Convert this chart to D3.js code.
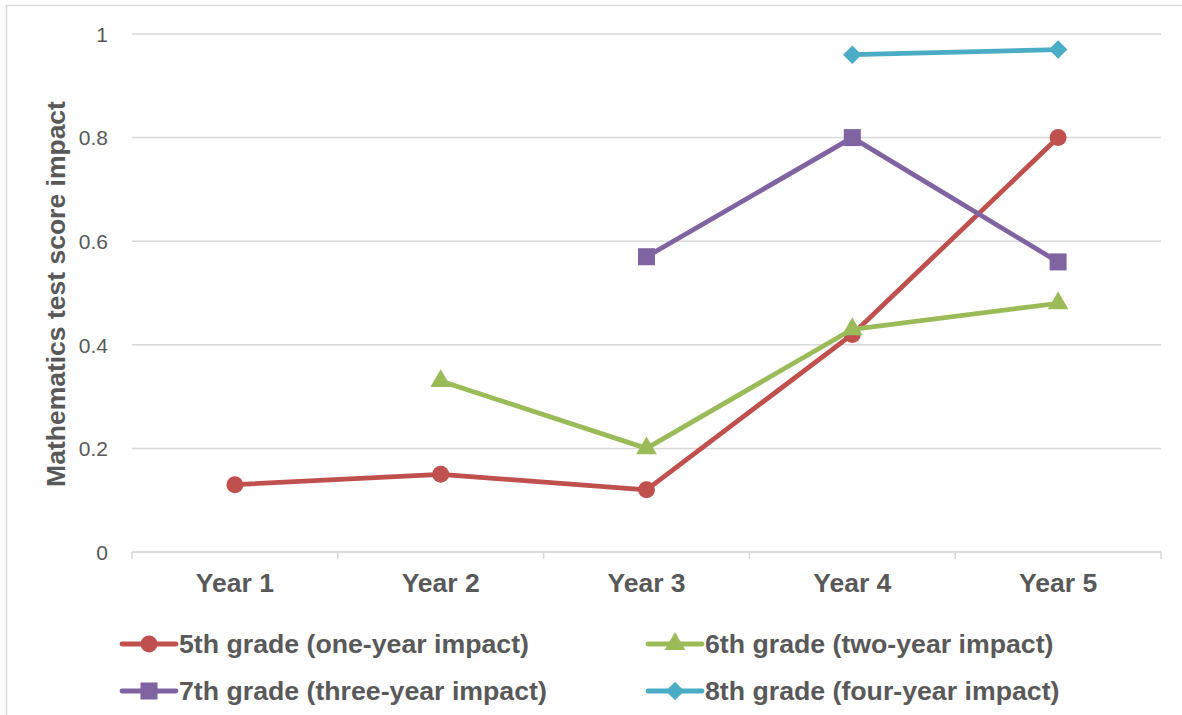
<!DOCTYPE html>
<html>
<head>
<meta charset="utf-8">
<script src="https://cdn.jsdelivr.net/npm/d3@7"></script>
<style>
  html, body { margin: 0; padding: 0; background: #fff; }
  svg { display: block; font-family: "Liberation Sans", Arial, sans-serif; }
</style>
</head>
<body>
<svg id="chart" width="1182" height="715"></svg>
<script>
// Category labels along the x axis
const years = ["Year 1", "Year 2", "Year 3", "Year 4", "Year 5"];
// Y axis tick values
const yTicks = [0, 0.2, 0.4, 0.6, 0.8, 1];

// Series values (null = no data for that year)
const grade5 = [0.13, 0.15, 0.12, 0.42, 0.80];
const grade6 = [null, 0.33, 0.20, 0.43, 0.48];
const grade7 = [null, null, 0.57, 0.80, 0.56];
const grade8 = [null, null, null, 0.96, 0.97];

const seriesNames = [
  "5th grade (one-year impact)",
  "6th grade (two-year impact)",
  "7th grade (three-year impact)",
  "8th grade (four-year impact)"
];

// Marker shapes: a diamond is drawn as a square rotated by 45 degrees
const series = [
  { name: seriesNames[0], values: grade5, color: "#C0504D", symbol: d3.symbolCircle, size: 227, rotate: 0 },
  { name: seriesNames[1], values: grade6, color: "#9BBB59", symbol: d3.symbolTriangle, size: 185, rotate: 0 },
  { name: seriesNames[2], values: grade7, color: "#8064A2", symbol: d3.symbolSquare, size: 290, rotate: 0 },
  { name: seriesNames[3], values: grade8, color: "#4BACC6", symbol: d3.symbolSquare, size: 170, rotate: 45 }
];

const svg = d3.select("#chart");
const W = 1182, H = 715;
const plot = { left: 132, right: 1161, top: 34, bottom: 552 };

// Outer chart border
svg.append("rect")
  .attr("x", 6.5).attr("y", 5.5)
  .attr("width", W + 20).attr("height", H + 20)
  .attr("fill", "none").attr("stroke", "#d9d9d9").attr("stroke-width", 1.5);

const x = d3.scaleBand().domain(years).range([plot.left, plot.right]);
const y = d3.scaleLinear().domain([0, 1]).range([plot.bottom, plot.top]);

// Horizontal gridlines
svg.append("g")
  .selectAll("line")
  .data(yTicks)
  .join("line")
  .attr("x1", plot.left).attr("x2", plot.right)
  .attr("y1", d => y(d)).attr("y2", d => y(d))
  .attr("stroke", "#d9d9d9").attr("stroke-width", 1.5);

// Y axis labels
const yAxis = d3.axisLeft(y).tickValues(yTicks).tickSize(0).tickPadding(0)
  .tickFormat(d => d === 0 || d === 1 ? String(d) : d3.format(".1f")(d));
const yg = svg.append("g").attr("transform", `translate(${plot.left - 24},0)`).call(yAxis);
yg.select(".domain").remove();
yg.selectAll("text")
  .attr("fill", "#595959")
  .style("font-size", "21px")
  .style("font-family", "\"Liberation Sans\", Arial, sans-serif")
  .attr("dy", "0.35em");

// X axis with boundary ticks
const xg = svg.append("g").attr("transform", `translate(0,${plot.bottom})`);
xg.append("line")
  .attr("x1", plot.left).attr("x2", plot.right)
  .attr("stroke", "#d9d9d9").attr("stroke-width", 1.5);
const bounds = years.map(d => x(d)).concat([x(years[years.length - 1]) + x.bandwidth()]);
xg.selectAll("line.tick")
  .data(bounds)
  .join("line")
  .attr("class", "tick")
  .attr("x1", d => d).attr("x2", d => d)
  .attr("y1", 0).attr("y2", 7)
  .attr("stroke", "#d9d9d9").attr("stroke-width", 1.5);
xg.selectAll("text")
  .data(years)
  .join("text")
  .attr("x", d => x(d) + x.bandwidth() / 2)
  .attr("y", 40)
  .attr("text-anchor", "middle")
  .attr("fill", "#595959")
  .style("font-size", "26.5px")
  .style("font-weight", "bold")
  .text(d => d);

// Y axis title
svg.append("text")
  .attr("transform", `translate(65,294) rotate(-90)`)
  .attr("text-anchor", "middle")
  .attr("fill", "#595959")
  .style("font-size", "26.5px")
  .style("font-weight", "bold")
  .text("Mathematics test score impact");

// Series lines and markers
const line = d3.line()
  .defined(d => d.v !== null)
  .x(d => x(d.year) + x.bandwidth() / 2)
  .y(d => y(d.v));

series.forEach(s => {
  const pts = s.values.map((v, i) => ({ year: years[i], v }));
  svg.append("path")
    .datum(pts)
    .attr("d", line)
    .attr("fill", "none")
    .attr("stroke", s.color)
    .attr("stroke-width", 4.8)
    .attr("stroke-linejoin", "round")
    .attr("stroke-linecap", "round");
  svg.append("g")
    .selectAll("path")
    .data(pts.filter(d => d.v !== null))
    .join("path")
    .attr("transform", d => `translate(${x(d.year) + x.bandwidth() / 2},${y(d.v)}) rotate(${s.rotate})`)
    .attr("d", d3.symbol().type(s.symbol).size(s.size))
    .attr("fill", s.color);
});

// Legend (two columns, two rows)
const legendPos = [
  { x: 122, y: 644 },
  { x: 648, y: 644 },
  { x: 122, y: 691 },
  { x: 648, y: 691 }
];
series.forEach((s, i) => {
  const p = legendPos[i];
  const g = svg.append("g").attr("transform", `translate(${p.x},${p.y})`);
  g.append("line")
    .attr("x1", 0).attr("x2", 54)
    .attr("stroke", s.color).attr("stroke-width", 4.8)
    .attr("stroke-linecap", "round");
  g.append("path")
    .attr("transform", `translate(27,0) rotate(${s.rotate})`)
    .attr("d", d3.symbol().type(s.symbol).size(s.size))
    .attr("fill", s.color);
  g.append("text")
    .attr("x", 57)
    .attr("dy", "0.35em")
    .attr("fill", "#595959")
    .style("font-size", "26.7px")
    .style("font-weight", "bold")
    .text(s.name);
});
</script>
</body>
</html>
